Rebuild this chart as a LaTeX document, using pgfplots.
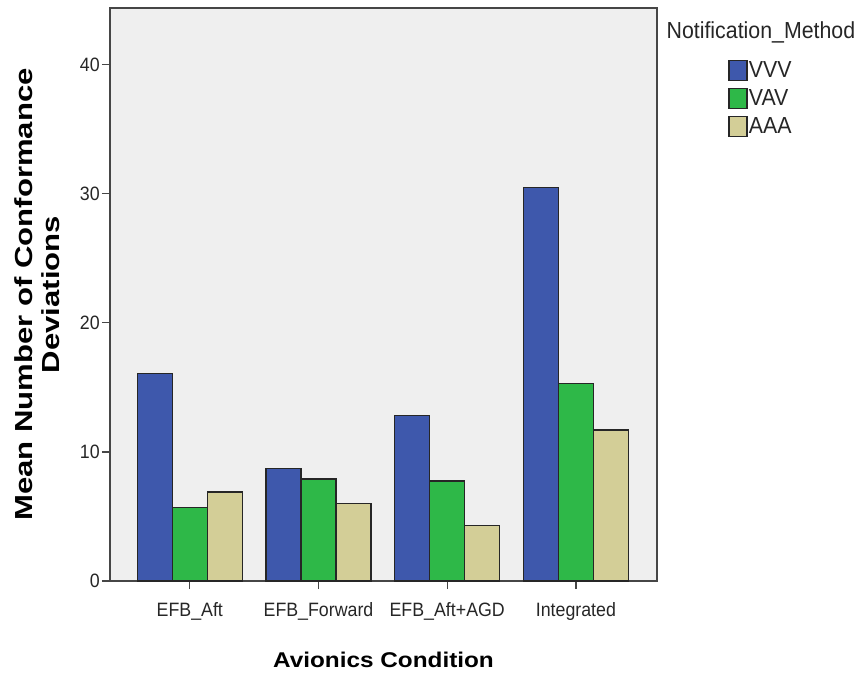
\documentclass[border=0pt]{standalone}
\usepackage{fontspec}
\setmainfont{Liberation Sans}[FakeStretch=0.92]
\newfontfamily\xlabfont{Liberation Sans}[FakeStretch=1.14]
\newfontfamily\ylabfont{Liberation Sans}[FakeStretch=1.26]
\usepackage{pgfplots}
\pgfplotsset{compat=1.18}
\definecolor{vvv}{RGB}{62,88,172}
\definecolor{vav}{RGB}{46,184,72}
\definecolor{aaa}{RGB}{211,206,151}
\definecolor{bg}{RGB}{239,239,239}
\definecolor{frame}{RGB}{70,70,70}
\pgfplotsset{sqlegend/.style={legend image code/.code={\draw[##1,draw=black!85,line width=0.9pt] (0pt,-7.5pt) rectangle (13.5pt,7.5pt);}}}
\begin{document}
\begin{tikzpicture}
\path[use as bounding box] (-82.5pt,-72pt) rectangle (564pt,435.75pt);
\begin{axis}[
  at={(0,0)}, anchor=south west,
  scale only axis, width=410.25pt, height=429.75pt,
  ybar=0pt, bar width=26.25pt,
  xmin=-0.62, xmax=3.63, ymin=0, ymax=44.4,
  xtick={0,1,2,3},
  xticklabels={EFB\_Aft,EFB\_Forward,EFB\_Aft+AGD,Integrated},
  ytick={0,10,20,30,40},
  tick align=outside, major tick length=6pt,
  xtick pos=bottom, ytick pos=left,
  tick style={frame, line width=0.9pt},
  axis line style={frame, line width=0.9pt},
  axis background/.style={fill=bg},
  /pgf/number format/assume math mode=true,
  ticklabel style={font=\fontsize{14.5}{16}\selectfont, text=black!85},
  yticklabel style={inner sep=1.5pt},
  xticklabel style={inner sep=1pt, yshift=-9pt},
  xlabel={\xlabfont\bfseries Avionics Condition},
  xlabel style={at={(rel axis cs:0.5,0)}, anchor=center, yshift=-59pt, font=\fontsize{16}{18}\selectfont},
  ylabel={\ylabfont\bfseries Mean Number of Conformance\\\ylabfont\bfseries Deviations},
  ylabel style={at={(rel axis cs:0,0.5)}, anchor=south, yshift=37.5pt, align=center, inner sep=0pt, font=\fontsize{18.5}{20.5}\selectfont},
  legend style={at={(rel axis cs:1.13,0.91)}, anchor=north west, draw=none, fill=none,
    font=\fontsize{17.4}{20}\selectfont, row sep=5.2pt, inner sep=0pt,
    nodes={inner sep=1pt, text=black!85}},
  legend cell align=left,
  clip=false,
]
\addplot[fill=vvv, draw=black!85, line width=0.9pt, sqlegend] coordinates {(0,16.1) (1,8.7) (2,12.8) (3,30.5)};
\addplot[fill=vav, draw=black!85, line width=0.9pt, sqlegend] coordinates {(0,5.7) (1,7.9) (2,7.75) (3,15.3)};
\addplot[fill=aaa, draw=black!85, line width=0.9pt, sqlegend] coordinates {(0,6.9) (1,6.0) (2,4.3) (3,11.7)};
\legend{VVV,VAV,AAA}
\node[font=\fontsize{17.4}{20}\selectfont, text=black!85] at (rel axis cs:1.19,0.958) {Notification\_Method};
\end{axis}
\end{tikzpicture}
\end{document}
